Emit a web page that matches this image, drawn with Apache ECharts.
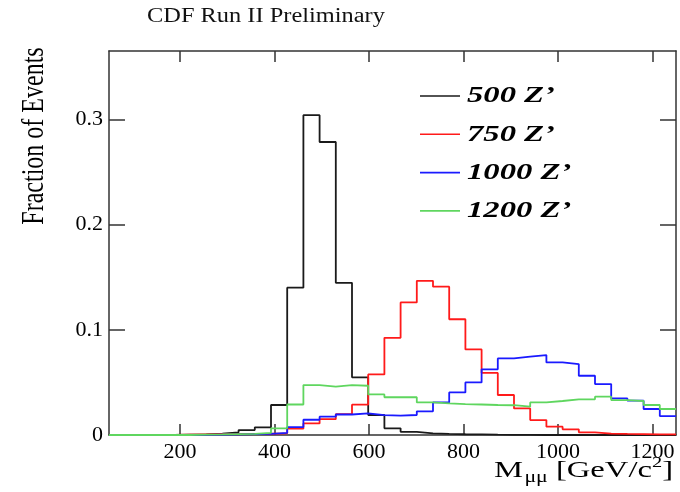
<!DOCTYPE html>
<html>
<head>
<meta charset="utf-8">
<script src="https://cdn.jsdelivr.net/npm/echarts@6/dist/echarts.min.js"></script>
<style>
  html, body { margin: 0; padding: 0; background: #fff; }
  #chart { width: 680px; height: 492px; }
</style>
</head>
<body>
<div id="chart"></div>
<script>
// Dimuon invariant mass templates for Z' signal hypotheses (normalised to unit area)
const massRange = [50, 1250];               // histogram range, GeV/c^2
const xTicks = [200, 400, 600, 800, 1000, 1200];
const yTicks = [0, 0.1, 0.2, 0.3];
const yMax = 0.365;
const seriesNames = ['500 Z\u2019', '750 Z\u2019', '1000 Z\u2019', '1200 Z\u2019'];
const seriesColors = ['#1a1a1a', '#ff1a1a', '#1a1aff', '#5fd65f'];

// fraction of events per bin (35 bins across the range)
const frac500 = [0, 0, 0, 0, 0.0003, 0.0006, 0.0013, 0.0025, 0.0047, 0.0073,
  0.0285, 0.140, 0.304, 0.2785, 0.1446, 0.0548, 0.019, 0.0063, 0.003, 0.0015,
  0.001, 0.0007, 0.0005, 0.0003, 0.0002, 0.0001, 0, 0, 0, 0,
  0, 0, 0, 0, 0];
const frac750 = [0, 0, 0, 0.0002, 0.0004, 0.0006, 0.0008, 0.001, 0.0011, 0.0012,
  0.0016, 0.006, 0.011, 0.015, 0.0198, 0.0288, 0.0576, 0.0924, 0.126, 0.1465,
  0.141, 0.110, 0.0813, 0.059, 0.038, 0.0253, 0.0142, 0.0079, 0.0054, 0.0025,
  0.0013, 0.001, 0.0008, 0.0005, 0.0005];
const frac1000 = [0, 0, 0, 0, 0, 0.0002, 0.0004, 0.0006, 0.0008, 0.001,
  0.002, 0.0075, 0.0145, 0.0174, 0.0195, 0.0206, 0.0188, 0.0185, 0.019, 0.0225,
  0.031, 0.0405, 0.050, 0.0624, 0.0728, 0.0744, 0.076, 0.069, 0.0674, 0.0563,
  0.0484, 0.0348, 0.0326, 0.0247, 0.018];
const frac1200 = [0, 0, 0, 0, 0, 0.0003, 0.0005, 0.0008, 0.001, 0.002,
  0.0063, 0.029, 0.0475, 0.0459, 0.0475, 0.0468, 0.0386, 0.0359, 0.0359, 0.031,
  0.030, 0.0294, 0.029, 0.0285, 0.0283, 0.0269, 0.031, 0.0323, 0.0339, 0.0339,
  0.0364, 0.0332, 0.0323, 0.0285, 0.0247];

const allFractions = [frac500, frac750, frac1000, frac1200];

// turn per-bin contents into step points at the bin edges
function histSteps(vals) {
  const w = (massRange[1] - massRange[0]) / vals.length;
  const pts = vals.map((v, i) => [massRange[0] + i * w, v]);
  pts.push([massRange[1], vals[vals.length - 1]]);
  return pts;
}

const serif = '"Liberation Serif", "Times New Roman", serif';
const frameColor = '#333';
const wide = 1.3;   // horizontal stretch of the lettering

const xAxisBase = {
  type: 'value', min: massRange[0], max: massRange[1],
  axisLine: { show: true, onZero: false, lineStyle: { color: frameColor, width: 1.5 } },
  splitLine: { show: false },
  axisTick: { show: true, inside: true, length: 11, customValues: xTicks,
              lineStyle: { color: frameColor, width: 1.5 } }
};
const yAxisBase = {
  type: 'value', min: 0, max: yMax,
  axisLine: { show: true, onZero: false, lineStyle: { color: frameColor, width: 1.5 } },
  splitLine: { show: false },
  axisTick: { show: true, inside: true, length: 16, customValues: yTicks,
              lineStyle: { color: frameColor, width: 1.5 } }
};

// key: a short line sample and an italic bold label per hypothesis
const legendItems = seriesNames.map((name, i) => ({
  type: 'group',
  x: 420, y: 96 + i * 38.3,
  children: [
    { type: 'line', shape: { x1: 0, y1: 0, x2: 40, y2: 0 },
      style: { stroke: seriesColors[i], lineWidth: 1.6 } },
    { type: 'text', x: 47, y: 0, scaleX: 1.36,
      style: { text: name, font: 'italic bold 24px ' + serif, fill: '#000',
               align: 'left', verticalAlign: 'middle' } }
  ]
}));

const chart = echarts.init(document.getElementById('chart'), null, { renderer: 'canvas' });
chart.setOption({
  animation: false,
  backgroundColor: '#fff',
  grid: { left: 109, right: 4, top: 51, bottom: 57, containLabel: false },
  xAxis: [
    Object.assign({}, xAxisBase, {
      position: 'bottom',
      axisLabel: { show: true, customValues: xTicks, margin: 6,
                   fontFamily: serif, fontSize: 22, color: '#000',
                   formatter: v => String(v) }
    }),
    Object.assign({}, xAxisBase, { position: 'top', axisLabel: { show: false } })
  ],
  yAxis: [
    Object.assign({}, yAxisBase, {
      position: 'left',
      axisLabel: { show: true, customValues: yTicks, margin: 6,
                   fontFamily: serif, fontSize: 22, color: '#000',
                   formatter: v => String(v) }
    }),
    Object.assign({}, yAxisBase, { position: 'right', axisLabel: { show: false } })
  ],
  series: allFractions.map((vals, i) => ({
    name: seriesNames[i],
    type: 'line',
    step: 'end',
    xAxisIndex: 0, yAxisIndex: 0,
    data: histSteps(vals),
    color: seriesColors[i],
    symbol: 'none',
    lineStyle: { color: seriesColors[i], width: 1.8 },
    clip: true,
    z: 2 + i
  })),
  graphic: [
    {
      type: 'text',
      x: 147, y: 17, scaleX: 1.22,
      style: {
        text: 'CDF Run II Preliminary',
        font: '20px ' + serif, fill: '#111',
        align: 'left', verticalAlign: 'middle'
      }
    },
    {
      type: 'text',
      x: 35, y: 136,
      rotation: Math.PI / 2, scaleY: wide,
      style: {
        text: 'Fraction of Events',
        font: '24px ' + serif, fill: '#000',
        align: 'center', verticalAlign: 'middle'
      }
    },
    {
      type: 'text',
      x: 673, y: 471, scaleX: 1.36,
      style: {
        text: '{m|M}{s|\u03bc\u03bc}{n| [GeV/c}{p|2}{n|]}',
        align: 'right', verticalAlign: 'middle',
        fill: '#000',
        rich: {
          m: { font: '24px ' + serif, fill: '#000', lineHeight: 30, verticalAlign: 'middle' },
          s: { font: '16px ' + serif, fill: '#000', lineHeight: 30, verticalAlign: 'bottom', padding: [0, 0, 0, 1] },
          n: { font: '24px ' + serif, fill: '#000', lineHeight: 30, verticalAlign: 'middle' },
          p: { font: '15px ' + serif, fill: '#000', lineHeight: 30, verticalAlign: 'top' }
        }
      }
    }
  ].concat(legendItems)
});
</script>
</body>
</html>
